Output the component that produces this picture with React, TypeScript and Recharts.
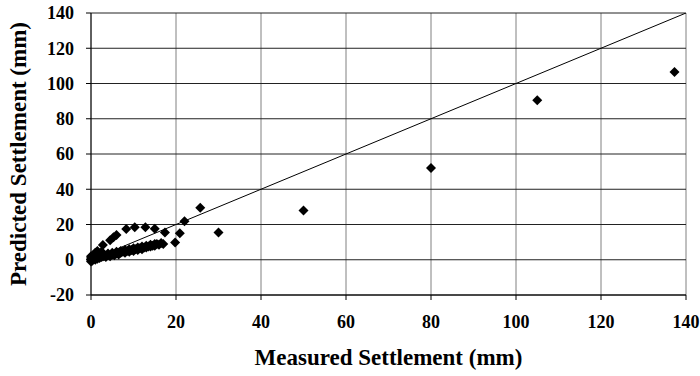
import React from 'react';
import {
  ScatterChart,
  Scatter,
  XAxis,
  YAxis,
  CartesianGrid,
  ReferenceLine,
} from 'recharts';

// measured vs predicted settlement (mm)
const measured = [
  0, 0, 0, 0, 0.3, 0.5, 0.5, 0.8, 1, 1, 1, 1.3, 1.5, 1.5, 2, 2, 2.5, 2.5, 3, 3,
  3.5, 4, 4, 4.5, 5, 5, 5.5, 6, 6, 6.5, 7, 7, 7.5, 8, 8, 8.5, 9, 9, 9.5, 10, 10,
  10.5, 11, 11, 11.5, 12, 12, 12.5, 13, 13, 13.5, 14, 14, 14.5, 15, 15, 15.5, 16,
  16.5, 17,
  1.5, 2.8, 4.5, 5.3, 6, 8.3, 10.3, 12.8, 15, 17.4, 19.8, 20.9, 22, 25.7, 30, 50,
  80, 105, 137.3,
];
const predicted = [
  -1, 0, 1, 2, -0.5, 0.5, 2.5, 1, 0, 3, 4, 1.5, 0.5, 2.5, 1, 3.5, 1.5, 4.5, 2, 3,
  1.5, 2.5, 3.5, 2, 3, 4, 2.5, 3.5, 4.5, 3, 4, 5, 4.5, 4, 5.5, 5, 4.5, 6, 5.5, 5,
  6.5, 6, 5.5, 7, 6.5, 6, 7.5, 7, 7, 8, 7.5, 7.5, 8.5, 8, 8, 9, 9, 8.5, 9.5, 9,
  5, 8.4, 11, 12.7, 14, 17.5, 18.5, 18.5, 17.6, 15.5, 9.8, 15, 21.8, 29.5, 15.4,
  28, 52, 90.5, 106.5,
];

const xTicks = [0, 20, 40, 60, 80, 100, 120, 140];
const yTicks = [-20, 0, 20, 40, 60, 80, 100, 120, 140];

const points = measured.map((m, i) => ({ x: m, y: predicted[i] }));

const font = "'Liberation Serif', 'Times New Roman', serif";
const textStyle: React.CSSProperties = {
  fill: '#000',
  fontSize: 18,
  fontWeight: 'bold',
  fontFamily: font,
};

const Diamond = (props: any) => {
  const { cx, cy } = props;
  const r = 5;
  return (
    <polygon
      points={`${cx},${cy - r} ${cx + r},${cy} ${cx},${cy + r} ${cx - r},${cy}`}
      fill="#000"
    />
  );
};

const renderXTick = (props: any) => {
  const { x, y, payload } = props;
  return (
    <g>
      <text x={x} y={y} dy="0.8em" textAnchor="middle" style={textStyle}>
        {payload.value}
      </text>
    </g>
  );
};

const renderYTick = (props: any) => {
  const { x, y, payload } = props;
  return (
    <g>
      <text x={x} y={y} dy="0.35em" textAnchor="end" style={textStyle}>
        {payload.value}
      </text>
    </g>
  );
};

export default function App() {
  return (
    <div style={{ position: 'absolute', left: 0, top: 0, background: '#fff', fontFamily: font }}>
      <ScatterChart
        width={700}
        height={376}
        margin={{ top: 13, right: 14, bottom: 0, left: 0 }}
      >
        <CartesianGrid horizontal={false} stroke="#808080" strokeWidth={1} />
        <CartesianGrid vertical={false} stroke="#222" strokeWidth={1} />
        <XAxis
          type="number"
          dataKey="x"
          domain={[0, 140]}
          ticks={xTicks}
          interval={0}
          height={81}
          tickSize={5}
          tickMargin={14}
          stroke="#000"
          tick={renderXTick}
          label={{
            value: 'Measured Settlement (mm)',
            position: 'insideBottom',
            offset: 11,
            style: { ...textStyle, fontSize: 23 },
          }}
        />
        <YAxis
          type="number"
          dataKey="y"
          domain={[-20, 140]}
          ticks={yTicks}
          interval={0}
          width={91}
          tickSize={5}
          tickMargin={12}
          stroke="#000"
          tick={renderYTick}
          label={{
            value: 'Predicted Settlement (mm)',
            angle: -90,
            position: 'insideLeft',
            offset: 18,
            style: { ...textStyle, fontSize: 23, textAnchor: 'middle' },
          }}
        />
        <ReferenceLine
          segment={[
            { x: 0, y: 0 },
            { x: 140, y: 140 },
          ]}
          stroke="#000"
          strokeWidth={1}
          ifOverflow="hidden"
        />
        <Scatter data={points} shape={Diamond} isAnimationActive={false} />
      </ScatterChart>
    </div>
  );
}
